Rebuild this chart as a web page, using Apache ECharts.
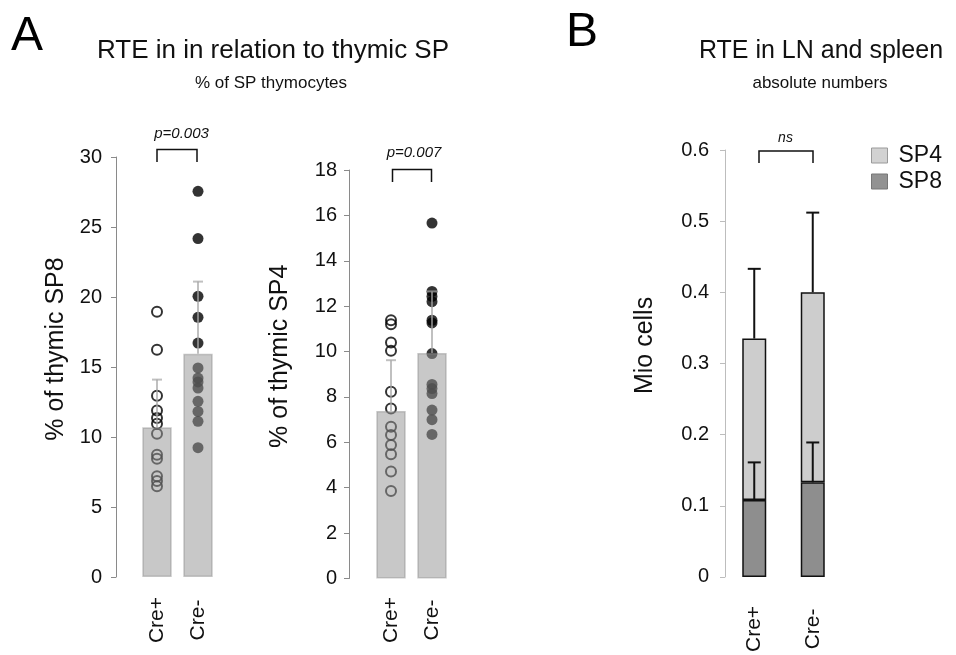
<!DOCTYPE html>
<html>
<head>
<meta charset="utf-8">
<script src="https://cdn.jsdelivr.net/npm/echarts@6/dist/echarts.min.js"></script>
<style>
  html, body { margin: 0; padding: 0; background: #fff; }
  #chart { width: 956px; height: 655px; }
</style>
</head>
<body>
<div id="chart"></div>
<script>
// groups
const categories = ['Cre+', 'Cre-']

// A left: % of thymic SP8
const sp8Mean = [10.7, 15.95]
const sp8Sd = [3.4, 5.15]
const sp8CrePos = [18.95, 16.24, 12.95, 11.9, 11.36, 10.95, 10.24, 8.74, 8.45, 7.19, 6.86, 6.48]
const sp8CreNeg = [27.55, 24.17, 20.05, 18.55, 16.71, 14.93, 14.21, 13.93, 13.5, 12.55, 11.83, 11.12, 9.24]

// A right: % of thymic SP4
const sp4Mean = [7.38, 9.94]
const sp4Sd = [2.24, 2.71]
const sp4CrePos = [11.38, 11.2, 10.4, 10.03, 8.23, 7.49, 6.69, 6.32, 5.88, 5.48, 4.71, 3.86]
const sp4CreNeg = [15.66, 12.65, 12.43, 12.2, 11.38, 11.26, 9.91, 8.55, 8.37, 8.15, 7.42, 7.0, 6.35]

// B: Mio cells, stacked
const lnSp8 = [0.108, 0.133]
const lnSp8Sd = [0.053, 0.056]
const lnSp4 = [0.227, 0.267]
const lnTotalSd = [0.098, 0.112]

const font = 'Liberation Sans, Arial, sans-serif'
const ink = '#111'

function dots(values, idx) {
  return values.map(v => [idx, v])
}

function errData(mean, sd, base) {
  return mean.map((m, i) => {
    const b = base ? base[i] + m : m
    return [i, b, b + sd[i]]
  })
}

function errorSeries(axis, data, color, width, cap, z) {
  return {
    type: 'custom',
    xAxisIndex: axis,
    yAxisIndex: axis,
    data: data,
    z: z,
    silent: true,
    encode: { x: 0, y: [1, 2] },
    renderItem(params, api) {
      const x = api.value(0)
      const p0 = api.coord([x, api.value(1)])
      const p1 = api.coord([x, api.value(2)])
      const style = { stroke: color, lineWidth: width }
      return {
        type: 'group',
        children: [
          { type: 'line', shape: { x1: p0[0], y1: p0[1], x2: p1[0], y2: p1[1] }, style },
          { type: 'line', shape: { x1: p1[0] - cap, y1: p1[1], x2: p1[0] + cap, y2: p1[1] }, style }
        ]
      }
    }
  }
}

function yAxis(grid, max, interval, name, gap, offset, lineColor, margin) {
  return {
    type: 'value',
    gridIndex: grid,
    min: 0,
    max: max,
    interval: interval,
    offset: offset,
    name: name,
    nameLocation: 'middle',
    nameGap: gap,
    nameTextStyle: { fontSize: 25, color: ink, fontFamily: font, padding: [0, 0, 0, 36] },
    axisLine: { show: true, lineStyle: { color: lineColor, width: 1 } },
    axisTick: { show: true, length: 5, lineStyle: { color: lineColor } },
    axisLabel: { fontSize: 20, color: ink, fontFamily: font, margin: margin },
    splitLine: { show: false }
  }
}

function xAxis(grid, margin) {
  return {
    type: 'category',
    gridIndex: grid,
    data: categories,
    axisLine: { show: false },
    axisTick: { show: false },
    axisLabel: {
      rotate: 90,
      align: 'center',
      verticalAlign: 'middle',
      margin: margin,
      fontSize: 21,
      color: ink,
      fontFamily: font
    }
  }
}

const barFill = 'rgba(150,150,150,0.52)'
const barEdge = 'rgba(140,140,140,0.45)'
const errGrey = 'rgba(165,165,165,0.7)'
const openDot = { color: 'rgba(0,0,0,0)', borderColor: '#000', borderWidth: 2 }

const chart = echarts.init(document.getElementById('chart'))
chart.setOption({
  backgroundColor: '#ffffff',
  animation: false,
  textStyle: { fontFamily: font },
  grid: [
    { left: 136.5, top: 157, width: 82, height: 420 },
    { left: 370.5, top: 170, width: 82, height: 408.5 },
    { left: 725, top: 150, width: 117, height: 428 }
  ],
  xAxis: [xAxis(0, 43), xAxis(1, 41.5), xAxis(2, 52)],
  yAxis: [
    yAxis(0, 30, 5, '% of thymic SP8', 47, 20.5, '#8a8a8a', 14),
    yAxis(1, 18, 2, '% of thymic SP4', 56, 21.5, '#8a8a8a', 12),
    yAxis(2, 0.6, 0.1, 'Mio cells', 67, 0, '#bdbdbd', 16)
  ],
  legend: {
    data: [
      { name: 'SP4', itemStyle: { color: '#d2d2d2', borderColor: '#9a9a9a', borderWidth: 1 } },
      { name: 'SP8', itemStyle: { color: '#929292', borderColor: '#777', borderWidth: 1 } }
    ],
    orient: 'vertical',
    left: 866,
    top: 139,
    icon: 'rect',
    itemWidth: 16,
    itemHeight: 15,
    itemGap: 3,
    selectedMode: false,
    textStyle: { fontSize: 23, color: ink, fontFamily: font, padding: [0, 0, 0, 6] }
  },
  series: [
    // A left
    { type: 'scatter', xAxisIndex: 0, yAxisIndex: 0, data: dots(sp8CrePos, 0), symbolSize: 10, itemStyle: openDot, z: 2, silent: true },
    { type: 'scatter', xAxisIndex: 0, yAxisIndex: 0, data: dots(sp8CreNeg, 1), symbolSize: 11, itemStyle: { color: '#000' }, z: 2, silent: true },
    { type: 'bar', xAxisIndex: 0, yAxisIndex: 0, data: sp8Mean, barWidth: 29.5, itemStyle: { color: barFill, borderColor: barEdge, borderWidth: 1.5 }, z: 3, silent: true },
    errorSeries(0, errData(sp8Mean, sp8Sd), errGrey, 2, 5, 4),
    // A right
    { type: 'scatter', xAxisIndex: 1, yAxisIndex: 1, data: dots(sp4CrePos, 0), symbolSize: 10, itemStyle: openDot, z: 2, silent: true },
    { type: 'scatter', xAxisIndex: 1, yAxisIndex: 1, data: dots(sp4CreNeg, 1), symbolSize: 11, itemStyle: { color: '#000' }, z: 2, silent: true },
    { type: 'bar', xAxisIndex: 1, yAxisIndex: 1, data: sp4Mean, barWidth: 29.5, itemStyle: { color: barFill, borderColor: barEdge, borderWidth: 1.5 }, z: 3, silent: true },
    errorSeries(1, errData(sp4Mean, sp4Sd), errGrey, 2, 5, 4),
    // B
    { name: 'SP8', type: 'bar', stack: 'ln', xAxisIndex: 2, yAxisIndex: 2, data: lnSp8, barWidth: 24, itemStyle: { color: '#8e8e8e', borderColor: '#111', borderWidth: 1.5 }, silent: true },
    { name: 'SP4', type: 'bar', stack: 'ln', xAxisIndex: 2, yAxisIndex: 2, data: lnSp4, barWidth: 24, itemStyle: { color: '#cdcdcd', borderColor: '#111', borderWidth: 1.5 }, silent: true },
    errorSeries(2, errData(lnSp8, lnSp8Sd), '#111', 2, 6.5, 5),
    errorSeries(2, errData(lnSp4, lnTotalSd, lnSp8), '#111', 2, 6.5, 5)
  ],
  graphic: [
    { type: 'text', left: 11, top: 13, style: { text: 'A', fontSize: 48, fill: '#000', fontFamily: font } },
    { type: 'text', left: 566, top: 9, style: { text: 'B', fontSize: 48, fill: '#000', fontFamily: font } },
    { type: 'text', x: 273, y: 51, style: { text: 'RTE in in relation to thymic SP', fontSize: 26, fill: ink, fontFamily: font, align: 'center', verticalAlign: 'middle' } },
    { type: 'text', x: 271, y: 83, style: { text: '% of SP thymocytes', fontSize: 17, fill: ink, fontFamily: font, align: 'center', verticalAlign: 'middle' } },
    { type: 'text', x: 821, y: 51, style: { text: 'RTE in LN and spleen', fontSize: 25, fill: ink, fontFamily: font, align: 'center', verticalAlign: 'middle' } },
    { type: 'text', x: 820, y: 83, style: { text: 'absolute numbers', fontSize: 17, fill: ink, fontFamily: font, align: 'center', verticalAlign: 'middle' } },
    // significance brackets
    { type: 'polyline', shape: { points: [[157, 162], [157, 149.5], [197, 149.5], [197, 162]] }, style: { stroke: '#111', lineWidth: 1.5, fill: null } },
    { type: 'text', x: 181.5, y: 134, style: { text: 'p=0.003', fontSize: 15, fontStyle: 'italic', fill: ink, fontFamily: font, align: 'center', verticalAlign: 'middle' } },
    { type: 'polyline', shape: { points: [[392.5, 182], [392.5, 169.5], [431.5, 169.5], [431.5, 182]] }, style: { stroke: '#111', lineWidth: 1.5, fill: null } },
    { type: 'text', x: 414, y: 153, style: { text: 'p=0.007', fontSize: 15, fontStyle: 'italic', fill: ink, fontFamily: font, align: 'center', verticalAlign: 'middle' } },
    { type: 'polyline', shape: { points: [[759, 163], [759, 151], [813, 151], [813, 163]] }, style: { stroke: '#111', lineWidth: 1.5, fill: null } },
    { type: 'text', x: 785.5, y: 138, style: { text: 'ns', fontSize: 14, fontStyle: 'italic', fill: ink, fontFamily: font, align: 'center', verticalAlign: 'middle' } }
  ]
})
</script>
</body>
</html>
